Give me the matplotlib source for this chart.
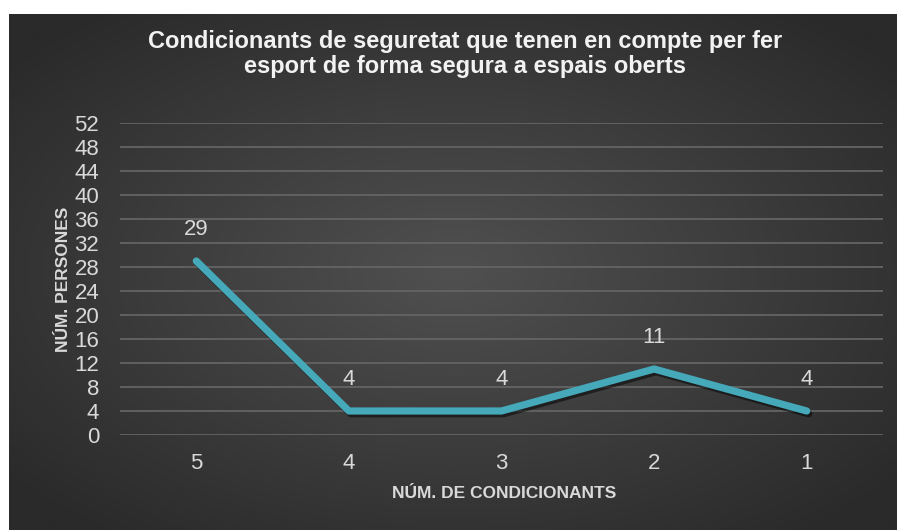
import numpy as np
import matplotlib.pyplot as plt
import matplotlib.patheffects as pe

categories = ['5', '4', '3', '2', '1']
values = [29, 4, 4, 11, 4]
yticks = list(range(0, 53, 4))

plt.rcParams['font.family'] = ['Liberation Sans', 'DejaVu Sans']

W, H = 897, 530
fig = plt.figure(figsize=(W / 100, H / 100), dpi=100)
fig.patch.set_facecolor('white')

# radial gradient background
bg = fig.add_axes([9 / W, 0, (896 - 9) / W, (530 - 14) / H])
yy, xx = np.mgrid[-1:1:300j, -1:1:500j]
r = np.sqrt(xx ** 2 + yy ** 2)
r = np.clip(r / 1.3, 0, 1)
c0 = np.array([0x50, 0x50, 0x50]) / 255
c1 = np.array([0x2a, 0x2a, 0x2a]) / 255
img = c0[None, None, :] * (1 - r[..., None]) + c1[None, None, :] * r[..., None]
bg.imshow(img, aspect='auto', extent=[0, 1, 0, 1])
bg.axis('off')

ax = fig.add_axes([120 / W, (H - 435) / H, (883 - 120) / W, (435 - 123) / H])
ax.patch.set_alpha(0)
x = np.arange(len(categories))
ax.plot(x, values, color='#45a9b9', lw=5.2, solid_capstyle='round', solid_joinstyle='round',
        path_effects=[pe.SimpleLineShadow(offset=(1.5, -2), shadow_color='black', alpha=0.5),
                      pe.Normal()], zorder=3)
for xi, v in zip(x, values):
    ax.annotate(str(v), (xi, v), xytext=(0, 23), textcoords='offset points',
                ha='center', va='center', color='#d9d9d9', fontsize=16)

ax.set_xlim(-0.5, len(categories) - 0.5)
ax.set_ylim(0, 52)
ax.set_yticks(yticks)
ax.set_xticks(x)
ax.set_xticklabels(categories)
ax.grid(axis='y', color='#646464', lw=1.3)
ax.set_axisbelow(True)
for s in ax.spines.values():
    s.set_visible(False)
ax.tick_params(length=0, colors='#d9d9d9', labelsize=16)
ax.tick_params(axis='x', pad=13)
ax.tick_params(axis='y', pad=15)

fig.text(504 / W, 1 - 494 / H, 'NÚM. DE CONDICIONANTS', ha='center', va='center',
         color='#d9d9d9', fontsize=12.5, fontweight='bold')
fig.text(63 / W, 1 - 279 / H, 'NÚM. PERSONES', ha='center', va='center', rotation=90,
         color='#d9d9d9', fontsize=12.5, fontweight='bold')
fig.text(465 / W, 1 - 54 / H,
         'Condicionants de seguretat que tenen en compte per fer\nesport de forma segura a espais oberts',
         ha='center', va='center', color='#f2f2f2', fontsize=17, fontweight='bold',
         linespacing=1.15)

fig.savefig('out.png', dpi=100, facecolor=fig.get_facecolor())
